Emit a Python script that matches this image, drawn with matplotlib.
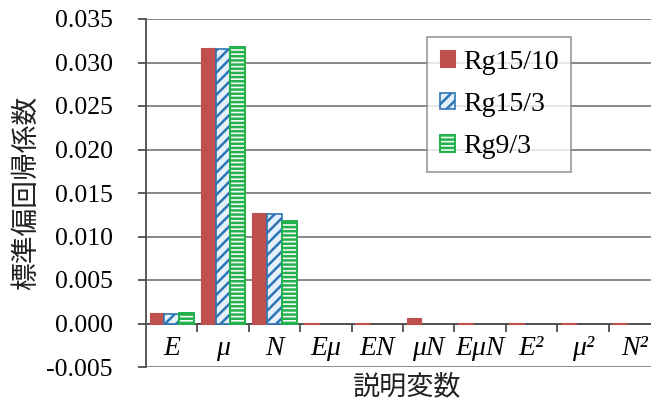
import numpy as np
import matplotlib
matplotlib.use("Agg")
import matplotlib.pyplot as plt
from matplotlib.ticker import FixedLocator

plt.rcParams['font.family'] = ['Liberation Serif', 'Noto Sans CJK JP']
plt.rcParams['hatch.linewidth'] = 1.8

categories = ['E', 'μ', 'N', 'Eμ', 'EN', 'μN', 'EμN', 'E²', 'μ²', 'N²']
series_names = ['Rg15/10', 'Rg15/3', 'Rg9/3']
rg15_10 = [0.00115, 0.0317, 0.0127, 0.0001, 0.0001, 0.0006, 0.0001, 0.00005, 0.00005, 0.0001]
rg15_3 = [0.00110, 0.0316, 0.0126, np.nan, np.nan, np.nan, np.nan, np.nan, np.nan, np.nan]
rg9_3 = [0.00120, 0.0318, 0.0118, np.nan, np.nan, np.nan, np.nan, np.nan, np.nan, np.nan]
y_ticks = [-0.005, 0.0, 0.005, 0.010, 0.015, 0.020, 0.025, 0.030, 0.035]
y_tick_labels = ['-0.005', '0.000', '0.005', '0.010', '0.015', '0.020', '0.025', '0.030', '0.035']

W, H = 651, 407
fig = plt.figure(figsize=(W / 100, H / 100), dpi=100)
ax = fig.add_axes([146 / W, 1 - 367 / H, 514 / W, 348 / H])

x = np.arange(len(categories))
w = 1 / 3.5
styles = [
    dict(facecolor='#C0504D', edgecolor='#C0504D', hatch=None, linewidth=0.8),
    dict(facecolor='#E4F0FA', edgecolor='#2E75B6', hatch='///', linewidth=1.2),
    dict(facecolor='#F4FBF4', edgecolor='#22B14C', hatch='----', linewidth=1.4),
]
for i, (vals, name, st) in enumerate(zip([rg15_10, rg15_3, rg9_3], series_names, styles)):
    ax.bar(x + (i - 1) * w, vals, width=w, label=name, zorder=3, **st)

ax.set_xlim(-0.5, len(categories) - 0.5)
ax.set_ylim(-0.005, 0.035)
ax.set_yticks(y_ticks)
ax.set_yticklabels(y_tick_labels, fontsize=18.5)
ax.yaxis.grid(True, color='#808080', linewidth=1.3, zorder=0)
ax.set_axisbelow(True)

for s in ['top', 'right']:
    ax.spines[s].set_visible(False)
ax.spines['left'].set_color('#4d4d4d')
ax.spines['left'].set_linewidth(1.3)
ax.spines['bottom'].set_position(('data', 0))
ax.spines['bottom'].set_color('#4d4d4d')
ax.spines['bottom'].set_linewidth(1.3)

# category boundaries carry the tick marks, centres carry the labels
ax.xaxis.set_major_locator(FixedLocator(np.arange(0.5, len(categories) - 0.5, 1)))
ax.xaxis.set_major_formatter(plt.NullFormatter())
ax.xaxis.set_minor_locator(FixedLocator(x))
ax.set_xticklabels(categories, minor=True, fontsize=20, style='italic')
ax.tick_params(axis='x', which='major', direction='out', length=6, width=1.3, color='#4d4d4d')
ax.tick_params(axis='x', which='minor', length=0, pad=9)
ax.tick_params(axis='y', direction='out', length=6, width=1.3, color='#4d4d4d', pad=18)

fig.text(407 / W, 1 - 387 / H, '説明変数', fontsize=19.5, family=['Noto Sans CJK JP'],
         ha='center', va='center', color='#222222')
fig.text(26 / W, 1 - 193 / H, '標準偏回帰係数', fontsize=20, family=['Noto Sans CJK JP'],
         ha='center', va='center', rotation=90, color='#222222')

leg = ax.legend(loc='upper left', bbox_to_anchor=(0.547, 0.948), fontsize=20,
                frameon=True, fancybox=False, edgecolor='#808080',
                handlelength=0.55, handleheight=0.55, handletextpad=0.3,
                labelspacing=0.62, borderpad=0.45, borderaxespad=0)
leg.get_frame().set_linewidth(1.2)

fig.savefig('out.png', dpi=100)
